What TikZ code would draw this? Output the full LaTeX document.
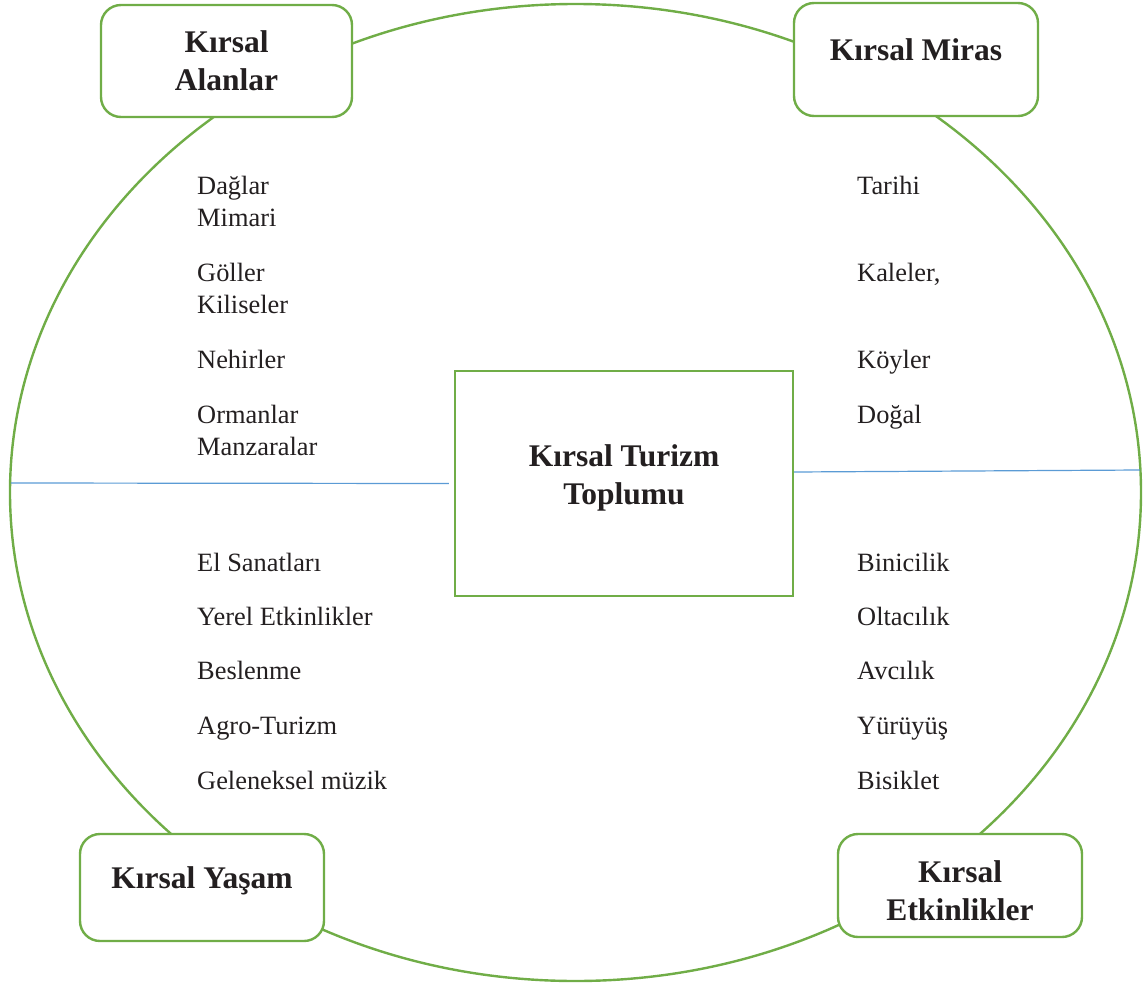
\documentclass[tikz,border=0pt]{standalone}
\usepackage{fontspec}
\setmainfont{Liberation Serif}
\usepackage{xcolor}
\usepackage{tikz}
\usetikzlibrary{positioning}
\definecolor{leaf}{HTML}{70AD47}
\definecolor{sky}{HTML}{5B9BD5}
\definecolor{ink}{HTML}{231F20}
\tikzstyle{ring} = [draw=leaf, line width=2.4pt]
\tikzstyle{corner} = [rectangle, rounded corners=20pt, minimum width=244pt, inner sep=0pt, align=center, draw=leaf, line width=2.4pt, fill=white, text=ink, font=\fontsize{31.5}{38}\selectfont\bfseries]
\tikzstyle{hub} = [rectangle, minimum width=338pt, minimum height=225pt, inner sep=0pt, align=center, draw=leaf, line width=2.4pt, fill=white, text=ink, font=\fontsize{31.5}{38}\selectfont\bfseries]
\tikzstyle{item} = [anchor=base west, inner sep=0pt, align=left, text=ink, font=\fontsize{26.4}{32}\selectfont]
\tikzstyle{divider} = [draw=sky, line width=1.2pt]

\begin{document}
\begin{tikzpicture}[x=1pt, y=-1pt]
            \useasboundingbox (0,0) rectangle (1146,985);
            % Ring
            \draw [ring] (575.5,492.5) ellipse [x radius=565.5pt, y radius=488.5pt];

            % Nodes
            \node (alanlar) [corner, minimum width=251pt, minimum height=112pt] at (226.5,61) {Kırsal\\Alanlar};
            \node (miras) [corner, minimum height=113pt, text depth=19.6pt] at (916,59.5) {Kırsal Miras};
            \node (yasam) [corner, minimum height=107pt, text depth=19.6pt] at (202,887.5) {Kırsal Yaşam};
            \node (etkinlik) [corner, minimum height=103pt, text height=69.8pt] at (960,885.5) {Kırsal\\Etkinlikler};
            \node (centre) [hub, text depth=18.4pt] at (624,483.5) {Kırsal Turizm\\Toplumu};

            % Items (base = last line)
            \node (daglar) [item] at (197,226) {Dağlar\\Mimari};
            \node (goller) [item] at (197,313) {Göller\\Kiliseler};
            \node (nehir) [item] at (197,368) {Nehirler};
            \node (orman) [item] at (197,455) {Ormanlar\\Manzaralar};
            \node (sanat) [item] at (197,571) {El Sanatları};
            \node (yerel) [item] at (197,625) {Yerel Etkinlikler};
            \node (besin) [item] at (197,679) {Beslenme};
            \node (agro) [item] at (197,734) {Agro-Turizm};
            \node (muzik) [item] at (197,789) {Geleneksel müzik};
            \node (tarihi) [item] at (857,194) {Tarihi};
            \node (kale) [item] at (857,281) {Kaleler,};
            \node (koy) [item] at (857,368) {Köyler};
            \node (dogal) [item] at (857,423) {Doğal};
            \node (binici) [item] at (857,571) {Binicilik};
            \node (olta) [item] at (857,625) {Oltacılık};
            \node (avci) [item] at (857,679) {Avcılık};
            \node (yuruyus) [item] at (857,734) {Yürüyüş};
            \node (bisiklet) [item] at (857,789) {Bisiklet};

            % Lines
            \coordinate (westend) at (11,483);
            \coordinate (eastend) at (1140,470);
            \draw [divider] (westend) -- ([xshift=-5pt]centre.west);
            \draw [divider] ([yshift=11.5pt]centre.east) -- (eastend);
        \end{tikzpicture}
\end{document}
